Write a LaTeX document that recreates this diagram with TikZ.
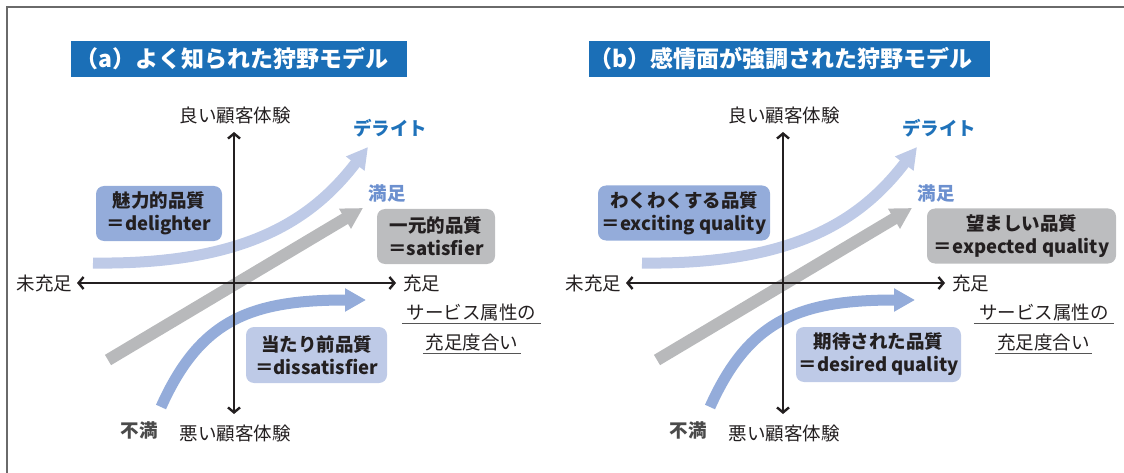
\documentclass[tikz,border=0pt]{standalone}
\usepackage{fontspec}
\setmainfont{Noto Sans CJK JP}
\usetikzlibrary{arrows.meta}
\definecolor{titleblue}{HTML}{1B6FB7}
\definecolor{delightc}{HTML}{1F72BA}
\definecolor{mansokuc}{HTML}{6C90CF}
\definecolor{bandlight}{HTML}{BECAE7}
\definecolor{bandmid}{HTML}{94ACDA}
\definecolor{bandgray}{HTML}{B8B9BB}
\definecolor{boxgray}{HTML}{BCBDBF}
\definecolor{axisc}{HTML}{231F20}
\definecolor{fumanc}{HTML}{4A4A4A}
\definecolor{framec}{HTML}{6A6A6A}
\definecolor{ulinec}{HTML}{555555}
\begin{document}
\begin{tikzpicture}[x=1pt,y=-1pt,
  lab/.style={font=\fontsize{18.5}{22}\selectfont, text=axisc, inner sep=0pt},
  blab/.style={font=\bfseries\fontsize{18.5}{22}\selectfont, inner sep=0pt},
  titlebox/.style={fill=titleblue, inner sep=0pt},
  titletext/.style={text=white, inner sep=0pt, font=\bfseries\fontsize{23}{27}\selectfont},
  qbox/.style={rounded corners=8pt, inner sep=0pt, align=center, text=axisc, font=\bfseries\fontsize{18.5}{23}\selectfont},
  attr/.style={lab, minimum height=22pt},
  uline/.style={draw=ulinec, line width=1.1pt},
  axis/.style={draw=axisc, line width=2.4pt, {Straight Barb[length=5pt,width=12pt]}-{Straight Barb[length=5pt,width=12pt]}},
  band/.style={line width=11pt, -{Triangle[length=21pt,width=22pt]}},
  framel/.style={draw=framec, line width=2pt}
 ]
\useasboundingbox (0,0) rectangle (1124,473);
% frame
\coordinate (fr-tl) at (6.5,7.5);
\coordinate (fr-tr) at (1124,7.5);
\coordinate (fr-bl) at (6.5,473);
\draw[framel] (fr-bl) -- (fr-tl) -- (fr-tr);

% ================= panel (a) =================
\node[titlebox, minimum width=336pt, minimum height=36pt] (a-title) at (239,59) {};
\node[titletext] (a-titletext) at (232,59) {（a）よく知られた狩野モデル};

% bands
\coordinate (a-d0) at (93,263);
\coordinate (a-d1) at (368,147);
\coordinate (a-g0) at (108,360);
\coordinate (a-g1) at (363,208);
\coordinate (a-s0) at (161,407);
\coordinate (a-s1) at (366,300);
\draw[band, draw=bandlight] (a-d0) .. controls (245,265) and (312,220) .. (a-d1);
\draw[band, draw=bandgray, line width=12pt] (a-g0) -- (a-g1);
\draw[band, draw=bandmid] (a-s0) .. controls (200,320) and (250,300) .. (a-s1);

% axes
\coordinate (a-top) at (234,132);
\coordinate (a-bot) at (234,414);
\coordinate (a-left) at (77,283);
\coordinate (a-right) at (396,283);
\draw[axis] (a-bot) -- (a-top);
\draw[axis] (a-left) -- (a-right);

% labels
\node[lab] (a-good) at (235,115) {良い顧客体験};
\node[lab] (a-bad) at (235,433) {悪い顧客体験};
\node[lab] (a-unsat) at (44.5,283) {未充足};
\node[lab, anchor=west] (a-sat) at (403,283) {充足};
\node[attr, minimum width=139pt] (a-attr1) at (471.5,312) {サービス属性の};
\node[attr, minimum width=98pt] (a-attr2) at (472,342) {充足度合い};
\draw[uline] (a-attr1.south west) -- (a-attr1.south east);
\draw[uline] (a-attr2.south west) -- (a-attr2.south east);
\node[blab, text=delightc] (a-delight) at (390,128) {デライト};
\node[blab, text=mansokuc] (a-mansoku) at (387,193) {満足};
\node[blab, text=fumanc] (a-fuman) at (139,430) {不満};

% boxes
\node[qbox, fill=bandmid, minimum width=126pt, minimum height=55pt] (a-q1) at (159,213.5) {魅力的品質\\＝delighter};
\node[qbox, fill=boxgray, minimum width=118pt, minimum height=55pt] (a-q2) at (436,236.5) {一元的品質\\＝satisfier};
\node[qbox, fill=bandlight, minimum width=141pt, minimum height=56pt] (a-q3) at (316.5,355) {当たり前品質\\＝dissatisfier};

% ================= panel (b) =================
\node[titlebox, minimum width=401pt, minimum height=36pt] (b-title) at (789.5,59) {};
\node[titletext] (b-titletext) at (781,59) {（b）感情面が強調された狩野モデル};

\coordinate (b-d0) at (642,263);
\coordinate (b-d1) at (917,147);
\coordinate (b-g0) at (657,360);
\coordinate (b-g1) at (912,208);
\coordinate (b-s0) at (710,407);
\coordinate (b-s1) at (915,300);
\draw[band, draw=bandlight] (b-d0) .. controls (794,265) and (861,220) .. (b-d1);
\draw[band, draw=bandgray, line width=12pt] (b-g0) -- (b-g1);
\draw[band, draw=bandmid] (b-s0) .. controls (749,320) and (799,300) .. (b-s1);

\coordinate (b-top) at (783,132);
\coordinate (b-bot) at (783,414);
\coordinate (b-left) at (626,283);
\coordinate (b-right) at (945,283);
\draw[axis] (b-bot) -- (b-top);
\draw[axis] (b-left) -- (b-right);

\node[lab] (b-good) at (784,115) {良い顧客体験};
\node[lab] (b-bad) at (784,433) {悪い顧客体験};
\node[lab] (b-unsat) at (593.5,283) {未充足};
\node[lab, anchor=west] (b-sat) at (952,283) {充足};
\node[attr, minimum width=140pt] (b-attr1) at (1044,312) {サービス属性の};
\node[attr, minimum width=97pt] (b-attr2) at (1043.5,342) {充足度合い};
\draw[uline] (b-attr1.south west) -- (b-attr1.south east);
\draw[uline] (b-attr2.south west) -- (b-attr2.south east);
\node[blab, text=delightc] (b-delight) at (939,128) {デライト};
\node[blab, text=mansokuc] (b-mansoku) at (936,193) {満足};
\node[blab, text=fumanc] (b-fuman) at (688,430) {不満};

\node[qbox, fill=bandmid, minimum width=172pt, minimum height=55pt] (b-q1) at (684,213) {わくわくする品質\\＝exciting quality};
\node[qbox, fill=boxgray, minimum width=189pt, minimum height=55pt] (b-q2) at (1021.5,236) {望ましい品質\\＝expected quality};
\node[qbox, fill=bandlight, minimum width=165pt, minimum height=55pt] (b-q3) at (878.5,354.5) {期待された品質\\＝desired quality};
\end{tikzpicture}
\end{document}
